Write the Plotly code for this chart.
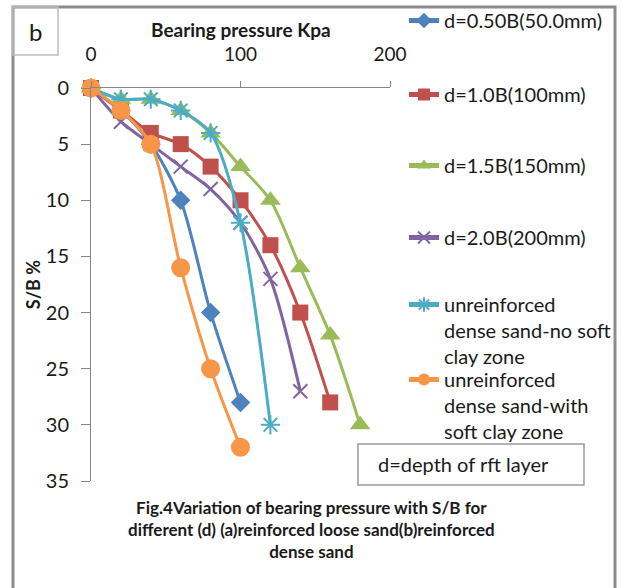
import plotly.graph_objects as go

# Bearing pressure (kPa) vs settlement ratio S/B (%) for each test series
names = [
    "d=0.50B(50.0mm)",
    "d=1.0B(100mm)",
    "d=1.5B(150mm)",
    "d=2.0B(200mm)",
    "unreinforced<br>dense sand-no soft<br>clay zone",
    "unreinforced<br>dense sand-with<br>soft clay zone",
]

p_050B = [0, 20, 40, 60, 80, 100]
sb_050B = [0, 2, 5, 10, 20, 28]

p_100B = [0, 20, 40, 60, 80, 100, 120, 140, 160]
sb_100B = [0, 2, 4, 5, 7, 10, 14, 20, 28]

p_150B = [0, 20, 40, 60, 80, 100, 120, 140, 160, 180]
sb_150B = [0, 1, 1, 2, 4, 7, 10, 16, 22, 30]

p_200B = [0, 20, 40, 60, 80, 100, 120, 140]
sb_200B = [0, 3, 5, 7, 9, 12, 17, 27]

p_noclay = [0, 20, 40, 60, 80, 100, 120]
sb_noclay = [0, 1, 1, 2, 4, 12, 30]

p_clay = [0, 20, 40, 60, 80, 100]
sb_clay = [0, 2, 5, 16, 25, 32]

x_ticks = [0, 100, 200]
y_ticks = [0, 5, 10, 15, 20, 25, 30, 35]

series = [
    (p_050B, sb_050B, "#4F81BD", "diamond", 15),
    (p_100B, sb_100B, "#C0504D", "square", 16),
    (p_150B, sb_150B, "#9BBB59", "triangle-up", 18),
    (p_200B, sb_200B, "#8064A2", "x-thin", 14),
    (p_noclay, sb_noclay, "#4BACC6", "asterisk", 16),
    (p_clay, sb_clay, "#F79646", "circle", 19),
]

W, H = 622, 588
L, R, T, B = 91, 390, 88, 481
FONT = "Lato"
INK = "#1a1a1a"


def px(x):
    return (x - L) / (R - L)


def py(y):
    return (B - y) / (B - T)


# top edge (px) of each legend entry
legend_tops = [1, 75, 146, 218, 285, 360]

fig = go.Figure()
for i, ((xs, ys, col, sym, size), name) in enumerate(zip(series, names)):
    mline = dict(width=2, color=col) if sym in ("x-thin", "asterisk") else dict(width=0)
    fig.add_trace(go.Scatter(
        x=xs, y=ys, name=name, mode="lines+markers",
        line=dict(color=col, width=3, shape="spline", smoothing=0.8),
        marker=dict(symbol=sym, size=size, color=col, line=mline),
        cliponaxis=False,
        legend="legend" if i == 0 else f"legend{i + 1}",
    ))

legend_common = dict(
    xref="container", yref="container", x=404 / W, xanchor="left", yanchor="top",
    bgcolor="rgba(0,0,0,0)", borderwidth=0, valign="top", itemsizing="constant",
    font=dict(family=FONT, size=20, color=INK),
    tracegroupgap=0, itemclick=False,
)
layout_legends = {}
for i, top in enumerate(legend_tops):
    key = "legend" if i == 0 else f"legend{i + 1}"
    layout_legends[key] = dict(legend_common, y=1 - top / H)

axis_line = "#868686"
fig.update_layout(
    width=W, height=H,
    margin=dict(l=L, r=W - R, t=T, b=H - B, autoexpand=False),
    paper_bgcolor="white", plot_bgcolor="white",
    showlegend=True,
    font=dict(family=FONT, color=INK),
    xaxis=dict(
        side="top", range=[0, 200], tickvals=x_ticks, ticks="outside", ticklen=6,
        tickcolor=axis_line, showline=True, linecolor=axis_line, linewidth=1,
        showgrid=False, zeroline=False, automargin=False, ticklabelstandoff=12,
        tickfont=dict(size=19, family=FONT),
    ),
    yaxis=dict(
        range=[35, 0], tickvals=y_ticks, ticks="outside", ticklen=9,
        tickcolor=axis_line, showline=True, linecolor=axis_line, linewidth=1,
        showgrid=False, zeroline=False, automargin=False, ticklabelstandoff=8,
        tickfont=dict(size=20, family=FONT),
        title=dict(text="S/B %", font=dict(size=18, family=FONT, weight="bold"), standoff=0),
    ),
    **layout_legends,
)

shapes = [
    # chart border
    dict(type="rect", xref="paper", yref="paper", x0=px(13), x1=px(615), y0=py(7), y1=py(590),
         line=dict(color="#8c8c8c", width=3), layer="below"),
    # panel label box
    dict(type="rect", xref="paper", yref="paper", x0=px(13), x1=px(58), y0=py(7), y1=py(55),
         line=dict(color="#bdbdbd", width=1.5)),
    # note box
    dict(type="rect", xref="paper", yref="paper", x0=px(358), x1=px(584), y0=py(444), y1=py(485),
         line=dict(color="#9a9a9a", width=1.5), fillcolor="white"),
]
fig.update_layout(shapes=shapes)

# horizontal axis title, set close above the tick labels
fig.add_annotation(x=0.5, y=py(30), xref="paper", yref="paper", text="Bearing pressure Kpa",
                   showarrow=False, xanchor="center", yanchor="middle",
                   font=dict(family=FONT, size=19, color=INK, weight="bold"))
fig.add_annotation(x=px(35), y=py(31), xref="paper", yref="paper", text="b", showarrow=False,
                   xanchor="center", yanchor="middle",
                   font=dict(family=FONT, size=24, color=INK))
fig.add_annotation(x=px(463), y=py(464), xref="paper", yref="paper", text="d=depth of rft layer",
                   showarrow=False, xanchor="center", yanchor="middle",
                   font=dict(family=FONT, size=20, color=INK))
fig.add_annotation(
    x=px(311), y=py(529), xref="paper", yref="paper",
    text="Fig.4Variation of bearing pressure with S/B for<br>"
         "different (d) (a)reinforced loose sand(b)reinforced<br>dense sand",
    showarrow=False, align="center", xanchor="center", yanchor="middle",
    font=dict(family=FONT, size=17, color=INK, weight="bold"),
)

fig.write_html("out.html")
